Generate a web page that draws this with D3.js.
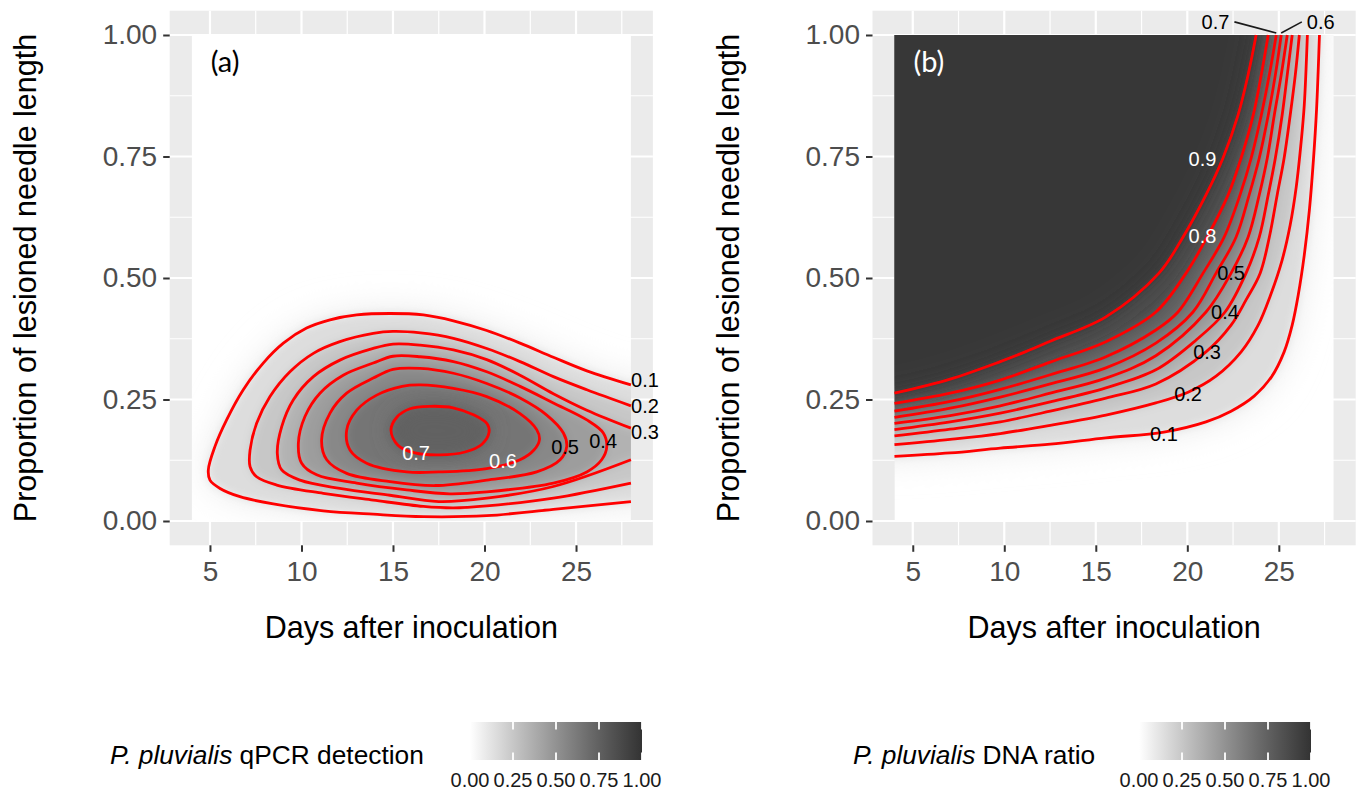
<!DOCTYPE html>
<html>
<head>
<meta charset="utf-8">
<script src="https://cdn.jsdelivr.net/npm/d3@7"></script>
<style>
  body { margin: 0; background: #fff; }
  svg { display: block; }
</style>
</head>
<body>
<svg id="chart" width="1359" height="792"></svg>
<script>
// ---- data (day, proportion) ----
const xTicks = [5, 10, 15, 20, 25];
const xMinor = [7.5, 12.5, 17.5, 22.5, 27.5];
const yTicks = [0, 0.25, 0.5, 0.75, 1];
const yMinor = [0.125, 0.375, 0.625, 0.875];
const legendBreaks = [0, 0.25, 0.5, 0.75, 1];

// panel (a): qPCR detection contours
const levelsA = [0.1, 0.2, 0.3, 0.4, 0.5, 0.6, 0.7];
const closedA = [false, false, false, true, true, true, true];
const a01 = [[28,0.280],[25.59,0.309],[23.76,0.337],[21.94,0.366],[20.12,0.392],[18.30,0.412],[16.66,0.424],[14.84,0.427],[13.02,0.424],[11.56,0.414],[10.28,0.397],[9.01,0.366],[7.91,0.325],[6.82,0.270],[5.91,0.208],[5.27,0.153],[4.91,0.105],[5.00,0.084],[5.55,0.067],[6.64,0.050],[8.46,0.035],[11.19,0.021],[13.92,0.014],[16.66,0.009],[20.12,0.011],[23.76,0.024],[28,0.040]];
const a02 = [[28,0.237],[25.59,0.270],[23.76,0.297],[21.94,0.328],[20.12,0.355],[18.30,0.376],[16.5,0.387],[15.0,0.390],[13.92,0.386],[12.10,0.369],[10.65,0.345],[9.37,0.307],[8.28,0.256],[7.55,0.201],[7.19,0.146],[7.19,0.112],[7.55,0.091],[8.65,0.074],[11.19,0.057],[13.92,0.043],[16.66,0.030],[18.3,0.027],[20.12,0.031],[23.76,0.047],[28,0.078]];
const a03 = [[28,0.191],[25.59,0.228],[23.76,0.262],[21.94,0.300],[20.12,0.332],[18.30,0.352],[16.48,0.362],[15.0,0.364],[13.92,0.355],[12.10,0.331],[10.65,0.297],[9.55,0.249],[8.92,0.194],[8.68,0.139],[8.92,0.105],[9.92,0.084],[12.10,0.067],[14.84,0.053],[17.5,0.040],[20.12,0.047],[23.76,0.071],[28,0.126]];
const a04 = [[26.68,0.153],[26.49,0.181],[25.59,0.208],[23.76,0.243],[21.94,0.277],[20.12,0.307],[18.30,0.328],[16.48,0.338],[15.0,0.339],[13.92,0.325],[12.28,0.300],[11.01,0.263],[10.19,0.215],[9.83,0.160],[10.01,0.119],[10.83,0.095],[13.02,0.078],[15.75,0.064],[18.1,0.056],[20.12,0.060],[23.76,0.078],[25.59,0.101],[26.40,0.126]];
const a05 = [[24.49,0.153],[24.31,0.181],[23.40,0.218],[21.94,0.253],[20.12,0.283],[18.30,0.304],[16.48,0.314],[15.0,0.312],[13.92,0.294],[12.47,0.263],[11.56,0.222],[11.10,0.167],[11.38,0.126],[12.47,0.098],[14.84,0.081],[17.3,0.073],[20.12,0.084],[22.85,0.101],[24.13,0.126]];
const a06 = [[23.0,0.167],[22.85,0.188],[21.94,0.221],[20.12,0.256],[18.30,0.273],[16.48,0.280],[15.5,0.277],[14.11,0.259],[13.02,0.228],[12.47,0.187],[12.65,0.146],[13.56,0.119],[15.75,0.101],[17.5,0.101],[20.12,0.108],[21.94,0.126],[22.7,0.146]];
const a07 = [[14.89,0.187],[15.22,0.214],[15.93,0.231],[17.02,0.236],[18.28,0.233],[19.43,0.218],[20.14,0.200],[20.25,0.183],[19.86,0.158],[18.93,0.142],[17.57,0.136],[16.20,0.140],[15.27,0.156]];
const labelsA = [[0.1,28.77,0.290],[0.2,28.77,0.237],[0.3,28.77,0.183],[0.4,26.48,0.165],[0.5,24.40,0.152],[0.6,21.01,0.123],[0.7,16.26,0.140]];

// panel (b): DNA ratio contours
const levelsB = [0.1, 0.2, 0.3, 0.4, 0.5, 0.6, 0.7, 0.8, 0.9];
const b01 = [[4,0.133],[7.04,0.140],[9.78,0.150],[12.51,0.158],[15.55,0.171],[18.72,0.183],[21.02,0.204],[22.39,0.226],[23.65,0.257],[24.59,0.296],[25.29,0.348],[25.73,0.403],[26.06,0.465],[26.39,0.547],[26.67,0.640],[26.89,0.743],[27.06,0.846],[27.22,1.0]];
const b02 = [[4,0.157],[7.04,0.168],[9.78,0.180],[12.51,0.197],[15.55,0.218],[18.28,0.243],[20.04,0.265],[21.57,0.298],[22.94,0.348],[23.87,0.403],[24.53,0.463],[25.18,0.537],[25.62,0.609],[25.95,0.687],[26.23,0.784],[26.39,0.856],[26.56,1.0]];
const b03 = [[4,0.175],[7.04,0.189],[9.78,0.204],[12.51,0.226],[15.55,0.253],[18.28,0.282],[21.02,0.348],[22.39,0.403],[23.21,0.455],[23.98,0.510],[24.48,0.584],[24.91,0.671],[25.29,0.747],[25.62,0.835],[25.90,0.918],[26.12,1.0]];
const b04 = [[4,0.188],[7.04,0.204],[9.78,0.222],[12.51,0.245],[15.55,0.274],[18.28,0.311],[20.47,0.372],[22.06,0.430],[23.21,0.510],[23.93,0.584],[24.42,0.671],[24.81,0.747],[25.18,0.835],[25.46,0.918],[25.73,1.0]];
const b05 = [[4,0.201],[7.04,0.217],[9.78,0.237],[12.51,0.263],[15.55,0.294],[18.28,0.340],[21.02,0.430],[22.39,0.510],[23.32,0.584],[23.93,0.671],[24.37,0.747],[24.75,0.835],[25.13,0.918],[25.46,1.0]];
const b06 = [[4,0.213],[7.04,0.232],[9.78,0.255],[12.51,0.282],[15.55,0.315],[18.28,0.366],[20.31,0.430],[21.57,0.510],[22.66,0.584],[23.38,0.671],[23.93,0.747],[24.42,0.835],[24.81,0.918],[25.13,1.0]];
const b07 = [[4,0.226],[7.04,0.246],[9.78,0.271],[12.51,0.301],[15.55,0.338],[18.28,0.393],[19.49,0.430],[20.86,0.510],[22.01,0.584],[22.88,0.671],[23.49,0.747],[24.04,0.835],[24.48,0.918],[24.86,1.0]];
const b08 = [[4,0.242],[7.04,0.263],[9.78,0.290],[12.51,0.327],[15.55,0.369],[18.28,0.430],[19.93,0.510],[21.08,0.584],[22.23,0.671],[22.94,0.747],[23.60,0.835],[24.04,0.918],[24.42,1.0]];
const b09 = [[4,0.263],[7.04,0.292],[9.78,0.328],[11.14,0.348],[12.51,0.370],[15.55,0.420],[18.45,0.510],[19.76,0.584],[21.02,0.671],[21.95,0.747],[22.77,0.835],[23.32,0.918],[23.76,1.0]];
const labelsB = [[0.1,18.72,0.179],[0.2,20.04,0.261],[0.3,21.08,0.348],[0.4,22.06,0.430],[0.5,22.39,0.510],[0.6,27.29,1.027],[0.7,21.54,1.027],[0.8,20.83,0.586],[0.9,20.83,0.745]];

// ---- layout ----
const FONT = '"Liberation Sans", Arial, sans-serif';
const TAGFONT = 'Lato, "Open Sans", sans-serif';
const panelW = 483.2, panelH = 534.6, panelTop = 10.7;
const xs = d3.scaleLinear().domain([2.8, 29.2]).range([0, panelW]);
const ys = d3.scaleLinear().domain([-0.05, 1.05]).range([panelH, 0]);
const grey = d3.scaleLinear().domain([0, 1]).range(['#ffffff', '#333333']).interpolate(d3.interpolateLab);

const svg = d3.select('#chart');
const defs = svg.append('defs');

function blurFilter(id, sd) {
  defs.append('filter').attr('id', id)
    .attr('filterUnits', 'userSpaceOnUse')
    .attr('x', -300).attr('y', -300).attr('width', 2000).attr('height', 1400)
    .append('feGaussianBlur').attr('stdDeviation', sd);
}
blurFilter('halo', 18);
blurFilter('soft', 5);
blurFilter('inner', 11);

defs.append('clipPath').attr('id', 'rasterClip')
  .append('rect')
  .attr('x', xs(4)).attr('y', ys(1))
  .attr('width', xs(28) - xs(4)).attr('height', ys(0) - ys(1));

const line = d3.line().x(d => xs(d[0])).y(d => ys(d[1])).curve(d3.curveCatmullRom.alpha(0.5));
const lineClosed = d3.line().x(d => xs(d[0])).y(d => ys(d[1])).curve(d3.curveCatmullRomClosed.alpha(0.5));
const pt = p => xs(p[0]) + ',' + ys(p[1]);

function drawPanel(cfg) {
  const g = svg.append('g').attr('transform', 'translate(' + cfg.left + ',' + panelTop + ')');

  g.append('rect').attr('width', panelW).attr('height', panelH).attr('fill', '#ebebeb');

  // grid
  g.selectAll('.xmin').data(xMinor).enter().append('line')
    .attr('x1', d => xs(d)).attr('x2', d => xs(d)).attr('y1', 0).attr('y2', panelH)
    .attr('stroke', '#fff').attr('stroke-width', 1.2);
  g.selectAll('.ymin').data(yMinor).enter().append('line')
    .attr('y1', d => ys(d)).attr('y2', d => ys(d)).attr('x1', 0).attr('x2', panelW)
    .attr('stroke', '#fff').attr('stroke-width', 1.2);
  g.selectAll('.xmaj').data(xTicks).enter().append('line')
    .attr('x1', d => xs(d)).attr('x2', d => xs(d)).attr('y1', 0).attr('y2', panelH)
    .attr('stroke', '#fff').attr('stroke-width', 2.2);
  g.selectAll('.ymaj').data(yTicks).enter().append('line')
    .attr('y1', d => ys(d)).attr('y2', d => ys(d)).attr('x1', 0).attr('x2', panelW)
    .attr('stroke', '#fff').attr('stroke-width', 2.2);

  // shaded surface, rebuilt from the contour regions and softened
  const contours = cfg.contours.map((pts, i) => ({ pts: pts, level: cfg.levels[i], closed: cfg.closed[i] }));
  function regionPath(c) {
    if (c.closed) return lineClosed(c.pts);
    const ext = cfg.extend(c.pts);
    return 'M' + pt(ext.pre[0]) + ext.pre.slice(1).map(p => 'L' + pt(p)).join('') +
      'L' + line(c.pts).slice(1) + ext.post.map(p => 'L' + pt(p)).join('') + 'Z';
  }
  const last = contours[contours.length - 1];
  const r = g.append('g').attr('clip-path', 'url(#rasterClip)');
  r.append('rect').attr('x', xs(4)).attr('y', ys(1))
    .attr('width', xs(28) - xs(4)).attr('height', ys(0) - ys(1)).attr('fill', grey(0));
  r.append('g').attr('filter', 'url(#halo)')
    .append('path').attr('d', regionPath(contours[0])).attr('fill', grey(contours[0].level));
  r.append('g').attr('filter', 'url(#soft)')
    .selectAll('path').data(contours).enter().append('path')
    .attr('d', regionPath)
    .attr('fill', d => grey(d.level + (d === last ? 0.03 : 0.05)));
  r.append('g').attr('filter', 'url(#inner)')
    .append('path').attr('d', regionPath(last)).attr('fill', grey(cfg.peak)).attr('fill-opacity', 0.85);

  // contour lines
  g.append('g').selectAll('path').data(contours).enter().append('path')
    .attr('d', c => c.closed ? lineClosed(c.pts) : line(c.pts))
    .attr('fill', 'none').attr('stroke', '#ff0000').attr('stroke-width', 2.8)
    .attr('stroke-linejoin', 'round');

  // contour labels
  const lab = g.append('g').selectAll('g').data(cfg.labels).enter().append('g');
  lab.append('text')
    .attr('x', d => xs(d[1])).attr('y', d => ys(d[2])).attr('dy', '0.36em')
    .attr('text-anchor', 'middle')
    .attr('font-family', FONT).attr('font-size', 20)
    .attr('fill', d => d[0] >= cfg.whiteFrom ? '#ffffff' : '#000000')
    .text(d => d3.format('.1f')(d[0]));
  // leader lines for labels set above the panel
  lab.filter(d => d[2] > 1).each(function (d) {
    const t = d3.select(this).select('text');
    const w = t.node().getComputedTextLength();
    const target = cfg.contours[cfg.levels.indexOf(d[0])];
    const tx = xs(target[target.length - 1][0]), ty = ys(1) - 2;
    const lx = xs(d[1]), side = tx > lx ? 1 : -1;
    d3.select(this).append('line')
      .attr('x1', lx + side * (w / 2 + 5)).attr('y1', ys(d[2]))
      .attr('x2', tx).attr('y2', ty)
      .attr('stroke', '#1a1a1a').attr('stroke-width', 1.6);
  });

  // panel tag
  g.append('text').attr('x', xs(4) + 19).attr('y', ys(1) + 37)
    .attr('font-family', TAGFONT).attr('font-size', 29)
    .attr('fill', cfg.tagColor).text(cfg.tag);

  // axes
  const ax = g.append('g').attr('transform', 'translate(0,' + panelH + ')')
    .call(d3.axisBottom(xs).tickValues(xTicks).tickSize(6.5).tickPadding(9.5).tickFormat(d3.format('d')));
  const ay = g.append('g')
    .call(d3.axisLeft(ys).tickValues(yTicks).tickSize(6.5).tickPadding(6).tickFormat(d3.format('.2f')));
  [ax, ay].forEach(a => {
    a.select('.domain').remove();
    a.selectAll('.tick line').attr('stroke', '#333333').attr('stroke-width', 2);
    a.selectAll('.tick text').attr('fill', '#4d4d4d').attr('font-size', 28).attr('font-family', FONT);
  });

  g.append('text').attr('x', panelW / 2).attr('y', panelH + 92.7)
    .attr('text-anchor', 'middle').attr('font-family', FONT).attr('font-size', 30.5)
    .attr('fill', '#000').text('Days after inoculation');
  g.append('text').attr('transform', 'translate(' + (-133.5) + ',' + (panelH / 2) + ') rotate(-90)')
    .attr('text-anchor', 'middle').attr('font-family', FONT).attr('font-size', 30.5)
    .attr('fill', '#000').text('Proportion of lesioned needle length');

  // legend
  const lg = svg.append('g');
  const title = lg.append('text').attr('x', cfg.legend.titleX).attr('y', 764)
    .attr('font-family', FONT).attr('font-size', 26.3).attr('fill', '#000');
  title.append('tspan').attr('font-style', 'italic').text('P. pluvialis');
  title.append('tspan').text(' ' + cfg.legend.title);

  const lx = d3.scaleLinear().domain([0, 1]).range([cfg.legend.bar0, cfg.legend.bar1]);
  const gid = 'grad' + cfg.tag.replace(/\W/g, '');
  const grad = defs.append('linearGradient').attr('id', gid);
  grad.selectAll('stop').data(d3.range(0, 1.0001, 0.1)).enter().append('stop')
    .attr('offset', d => d).attr('stop-color', d => grey(d));
  const barY = 722, barH = 38;
  lg.append('rect').attr('x', lx(0)).attr('y', barY).attr('width', lx(1) - lx(0)).attr('height', barH)
    .attr('fill', 'url(#' + gid + ')');
  lg.selectAll('.lt').data(legendBreaks).enter().append('path')
    .attr('d', d => 'M' + lx(d) + ',' + barY + 'v7.5M' + lx(d) + ',' + (barY + barH) + 'v-7.5')
    .attr('stroke', '#fff').attr('stroke-width', 1.8);
  lg.selectAll('.ll').data(legendBreaks).enter().append('text')
    .attr('x', d => lx(d)).attr('y', 787).attr('text-anchor', 'middle')
    .attr('font-family', FONT).attr('font-size', 20).attr('fill', '#1a1a1a')
    .text(d => d3.format('.2f')(d));
}

drawPanel({
  left: 169.7, tag: '(a)', tagColor: '#000',
  levels: levelsA, closed: closedA, contours: [a01, a02, a03, a04, a05, a06, a07],
  labels: labelsA, whiteFrom: 0.6, peak: 0.75,
  extend: pts => ({ pre: [[29.8, pts[0][1]]], post: [[29.8, pts[pts.length - 1][1]]] }),
  legend: { titleX: 110, title: 'qPCR detection', bar0: 470, bar1: 642 }
});

drawPanel({
  left: 872.5, tag: '(b)', tagColor: '#fff',
  levels: levelsB, closed: levelsB.map(() => false),
  contours: [b01, b02, b03, b04, b05, b06, b07, b08, b09],
  labels: labelsB, whiteFrom: 0.8, peak: 0.99,
  extend: pts => ({ pre: [[1.5, pts[0][1]]], post: [[pts[pts.length - 1][0], 1.15], [1.5, 1.15]] }),
  legend: { titleX: 853, title: 'DNA ratio', bar0: 1139, bar1: 1311 }
});
</script>
</body>
</html>
